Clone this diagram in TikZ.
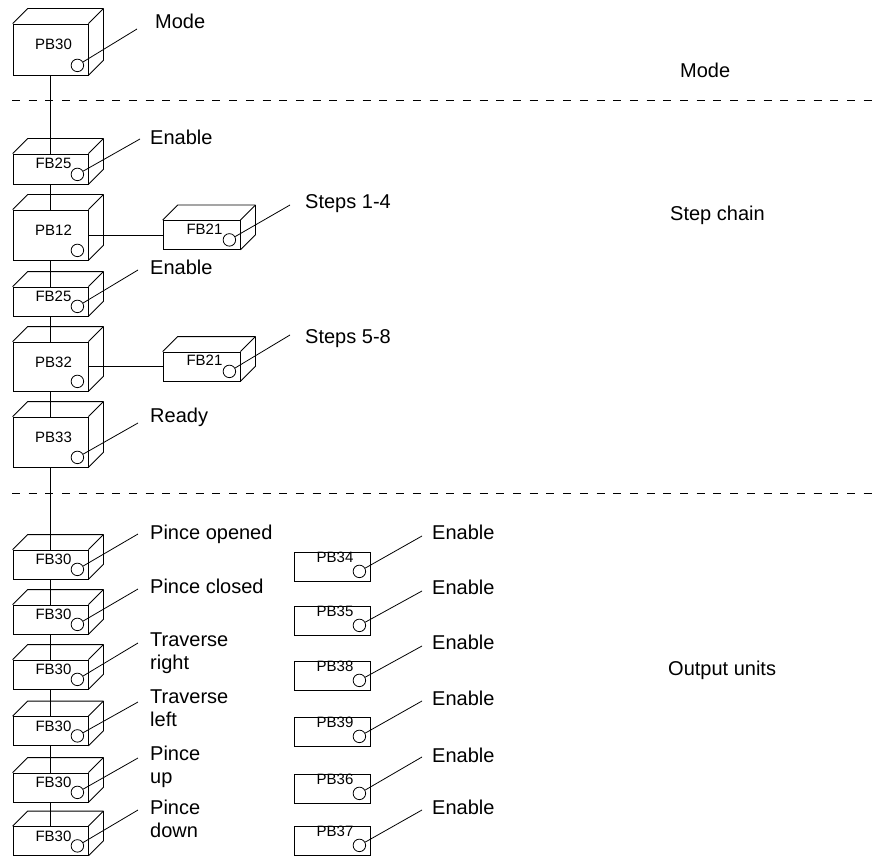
\documentclass[tikz,border=0pt]{standalone}
\usepackage{fontspec}
\setmainfont{Liberation Sans}
\tikzset{
  edge/.style={line width=0.8pt, black},
  front/.style={draw, line width=0.8pt, inner sep=0pt, fill=white},
  boxtext/.style={font=\fontsize{15}{17}\selectfont, inner sep=0pt},
  port/.style={draw, circle, line width=0.8pt, minimum size=12.5pt, inner sep=0pt, fill=white},
  lbl/.style={font=\fontsize{20}{23}\selectfont, inner sep=0pt, anchor=north west, align=left, yshift=7.2pt},
  sepline/.style={line width=0.8pt, dash pattern=on 8pt off 8.7pt},
}
% 3D box: name, cx, cy, w, h, label, text y offset from top
\newcommand{\cubebox}[7]{%
  \node[front, minimum width=#4pt, minimum height=#5pt] (#1) at (#2,#3) {};
  \draw[edge, line join=round] (#1.north west) -- ([shift={(15,-15)}]#1.north west)
     -- ([shift={(15,-15)}]#1.north east) -- ([shift={(15,-15)}]#1.south east) -- (#1.south east);
  \draw[edge] (#1.north east) -- ([shift={(15,-15)}]#1.north east);
  \node[boxtext] (#1-t) at ([shift={(3,#7)}]#1.north) {#6};
  \node[port] (#1-c) at ([shift={(-11,-10)}]#1.south east) {};
}
% flat box
\newcommand{\flatbox}[5]{%
  \node[front, minimum width=76pt, minimum height=29pt] (#1) at (#2,#3) {};
  \node[boxtext] (#1-t) at ([shift={(3,#5)}]#1.north) {#4};
  \node[port] (#1-c) at ([shift={(-11,-10)}]#1.south east) {};
}
\begin{document}
\begin{tikzpicture}[x=1pt,y=-1pt]
\useasboundingbox (0,0) rectangle (879,856);

% separators
\coordinate (s1a) at (12,100); \coordinate (s1b) at (879,100);
\coordinate (s2a) at (12,493); \coordinate (s2b) at (879,493);
\draw[sepline] (s1a) -- (s1b);
\draw[sepline] (s2a) -- (s2b);

% left column
\cubebox{pb30}{50.5}{49.5}{75}{51}{PB30}{21}
\cubebox{fb25a}{50.5}{169}{75}{30}{FB25}{10}
\cubebox{pb12}{50.5}{235}{75}{50}{PB12}{21}
\cubebox{fb25b}{50.5}{301.5}{75}{29}{FB25}{10}
\cubebox{pb32}{50.5}{366.5}{75}{49}{PB32}{21}
\cubebox{pb33}{50.5}{442}{75}{50}{PB33}{21}
\cubebox{fb30a}{50.5}{564.5}{75}{29}{FB30}{10}
\cubebox{fb30b}{50.5}{619.5}{75}{29}{FB30}{10}
\cubebox{fb30c}{50.5}{674.5}{75}{29}{FB30}{10}
\cubebox{fb30d}{50.5}{731}{75}{29}{FB30}{10}
\cubebox{fb30e}{50.5}{787.5}{75}{29}{FB30}{10}
\cubebox{fb30f}{50.5}{841}{75}{29}{FB30}{10}

% step chain side boxes
\cubebox{fb21a}{201.5}{235}{77}{29}{FB21}{9}
\cubebox{fb21b}{201.5}{366.5}{77}{29}{FB21}{9}

% right column
\flatbox{pb34}{332}{566.5}{PB34}{6}
\flatbox{pb35}{332}{620.5}{PB35}{6}
\flatbox{pb38}{332}{675.5}{PB38}{6}
\flatbox{pb39}{332}{731.5}{PB39}{6}
\flatbox{pb36}{332}{788.5}{PB36}{6}
\flatbox{pb37}{332}{840.5}{PB37}{6}

% chain connectors
\draw[edge] (pb30) -- (fb25a);
\draw[edge] (fb25a) -- (pb12);
\draw[edge] (pb12) -- (fb25b);
\draw[edge] (fb25b) -- (pb32);
\draw[edge] (pb32) -- (pb33);
\draw[edge] (pb33) -- (fb30a);
\draw[edge] (fb30a) -- (fb30b);
\draw[edge] (fb30b) -- (fb30c);
\draw[edge] (fb30c) -- (fb30d);
\draw[edge] (fb30d) -- (fb30e);
\draw[edge] (fb30e) -- (fb30f);
\draw[edge] (pb12.east) -- (fb21a.west);
\draw[edge] (pb32.east) -- (fb21b.west);

% leader end points
\coordinate (e1) at (137,29);
\coordinate (e2) at (140,139);
\coordinate (e3) at (290,205);
\coordinate (e4) at (138,270);
\coordinate (e5) at (290,335);
\coordinate (e6) at (138,423);
\coordinate (e7) at (138,534);
\coordinate (e8) at (138,589);
\coordinate (e9) at (138,643);
\coordinate (e10) at (138,702);
\coordinate (e11) at (138,758);
\coordinate (e12) at (138,810);
\coordinate (r1) at (422,536);
\coordinate (r2) at (422,591);
\coordinate (r3) at (422,646);
\coordinate (r4) at (422,701);
\coordinate (r5) at (422,757);
\coordinate (r6) at (422,810);

\draw[edge] (pb30-c) -- (e1);
\draw[edge] (fb25a-c) -- (e2);
\draw[edge] (fb21a-c) -- (e3);
\draw[edge] (fb25b-c) -- (e4);
\draw[edge] (fb21b-c) -- (e5);
\draw[edge] (pb33-c) -- (e6);
\draw[edge] (fb30a-c) -- (e7);
\draw[edge] (fb30b-c) -- (e8);
\draw[edge] (fb30c-c) -- (e9);
\draw[edge] (fb30d-c) -- (e10);
\draw[edge] (fb30e-c) -- (e11);
\draw[edge] (fb30f-c) -- (e12);
\draw[edge] (pb34-c) -- (r1);
\draw[edge] (pb35-c) -- (r2);
\draw[edge] (pb38-c) -- (r3);
\draw[edge] (pb39-c) -- (r4);
\draw[edge] (pb36-c) -- (r5);
\draw[edge] (pb37-c) -- (r6);

% labels
\node[lbl] (l1) at (155,21) {Mode};
\node[lbl] (l2) at (150,137) {Enable};
\node[lbl] (l3) at (305,202) {Steps 1-4};
\node[lbl] (l4) at (150,267) {Enable};
\node[lbl] (l5) at (305,337) {Steps 5-8};
\node[lbl] (l6) at (150,415) {Ready};
\node[lbl] (l7) at (150,532) {Pince opened};
\node[lbl] (l8) at (150,586) {Pince closed};
\node[lbl] (l9) at (150,640) {Traverse\\right};
\node[lbl] (l10) at (150,697) {Traverse\\left};
\node[lbl] (l11) at (150,753) {Pince\\up};
\node[lbl] (l12) at (150,807) {Pince\\down};
\node[lbl] (m1) at (432,532) {Enable};
\node[lbl] (m2) at (432,587) {Enable};
\node[lbl] (m3) at (432,642) {Enable};
\node[lbl] (m4) at (432,698) {Enable};
\node[lbl] (m5) at (432,755) {Enable};
\node[lbl] (m6) at (432,807) {Enable};

% section titles
\node[lbl] (t1) at (680,70) {Mode};
\node[lbl] (t2) at (670,213) {Step chain};
\node[lbl] (t3) at (668,668) {Output units};
\end{tikzpicture}
\end{document}
